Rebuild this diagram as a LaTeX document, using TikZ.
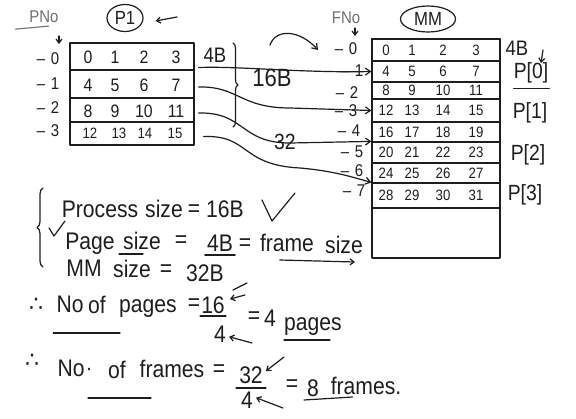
\documentclass[tikz,border=0pt]{standalone}
\usepackage{fontspec}
\setmainfont[FakeStretch=0.88]{Liberation Sans}
\newfontfamily\dejavu{DejaVu Sans}
\usetikzlibrary{arrows.meta,decorations.pathreplacing,calc,shapes.geometric}
\definecolor{inkc}{HTML}{1E1E1E}
\definecolor{grayink}{HTML}{707070}
\begin{document}
\begin{tikzpicture}[x=1pt,y=-1pt]
\tikzset{
  ink/.style={draw=inkc, line width=1.2pt, line cap=round, line join=round},
  tx/.style={inner sep=0pt, text=inkc, font=\fontsize{#1}{#1}\selectfont},
  gtx/.style={inner sep=0pt, text=grayink, font=\fontsize{#1}{#1}\selectfont},
  conn/.style={ink, -{Straight Barb[length=5pt,width=7pt]}},
  small arrow/.style={ink, -{Straight Barb[length=4pt,width=6pt]}},
  p1row/.style={ink, minimum width=124pt, inner sep=0pt},
  mmrow/.style={ink, minimum width=128pt, inner sep=0pt},
  circ/.style={ink, ellipse, inner sep=0pt},
  wb/.style={tx=24, anchor=base},
}
\useasboundingbox (0,0) rectangle (576,418);
\fill[white] (0,0) rectangle (576,418);

% ---------- P1 side ----------
\node[gtx=17] (pno) at (44,17) {PNo};
\draw[draw=grayink, line width=1.1pt, line cap=round] ($(pno.south west)+(-14,6)$) -- ($(pno.south east)+(-10,3)$);
\coordinate (pnoa) at (59,36);
\coordinate (pnob) at (59,44);
\draw[small arrow] (pnoa) -- (pnob);

\node[circ, minimum width=36pt, minimum height=27pt] (P1) at (125,18) {};
\node[tx=19] (P1t) at (P1) {P1};
\coordinate (P1arr) at (177,17);
\draw[small arrow] (P1arr) -- ($(P1.east)+(12,3)$);

\node[p1row, minimum height=27pt] (p0) at (132,56.5) {};
\node[p1row, minimum height=28pt] (p1) at (132,84) {};
\node[p1row, minimum height=24pt] (p2) at (132,110) {};
\node[p1row, minimum height=23pt] (p3) at (132,133.5) {};

\foreach \r/\a/\b/\c/\d in {0/0/1/2/3, 1/4/5/6/7, 2/8/9/10/11} {
  \node[tx=18] (pa\r) at ($(p\r.center)+(-44,1)$) {\a};
  \node[tx=18] (pb\r) at ($(p\r.center)+(-17,1)$) {\b};
  \node[tx=18] (pc\r) at ($(p\r.center)+(12,1)$) {\c};
  \node[tx=18] (pd\r) at ($(p\r.center)+(44,1)$) {\d};
}
\node[tx=15] (pa3) at ($(p3.center)+(-42,0)$) {12};
\node[tx=15] (pb3) at ($(p3.center)+(-13,0)$) {13};
\node[tx=15] (pc3) at ($(p3.center)+(13,0)$) {14};
\node[tx=15] (pd3) at ($(p3.center)+(43,0)$) {15};

\foreach \r/\y in {0/59, 1/84, 2/108, 3/131} {
  \node[tx=17] (pl\r) at (48,\y) {--\,\,\r};
}

\node[tx=21] (fourB) at (215,55) {4B};
\draw[ink, decorate, decoration={brace, amplitude=5pt}] (233,43) -- (233,127);
\node[tx=25] (sixteenB) at (272,78) {16B};
\node[tx=22] (thirtytwo) at (285,142) {32};

\coordinate (ta) at (270,45);
\coordinate (tb) at (318,50);
\draw[conn] (ta) .. controls (276,28) and (300,30) .. (tb);

% ---------- MM side ----------
\node[gtx=17] (fno) at (346,18) {FNo};
\coordinate (fnoa) at (355,28);
\coordinate (fnob) at (355,36);
\draw[small arrow] (fnoa) -- (fnob);
\node[circ, minimum width=55pt, minimum height=26pt] (MM) at (428,19) {};
\node[tx=19] (MMt) at (MM) {MM};

\node[ink, minimum width=128pt, minimum height=219pt, inner sep=0pt] (mmbox) at (436,148.5) {};
\node[mmrow, minimum height=22pt] (f0) at (436,50) {};
\node[mmrow, minimum height=21pt] (f1) at (436,71.5) {};
\node[mmrow, minimum height=17pt] (f2) at (436,90.5) {};
\node[mmrow, minimum height=23pt] (f3) at (436,110.5) {};
\node[mmrow, minimum height=20pt] (f4) at (436,132) {};
\node[mmrow, minimum height=21pt] (f5) at (436,152.5) {};
\node[mmrow, minimum height=20pt] (f6) at (436,173) {};
\node[mmrow, minimum height=25pt] (f7) at (436,195.5) {};

\foreach \r/\a/\b/\c/\d in {0/0/1/2/3, 1/4/5/6/7, 2/8/9/10/11, 3/12/13/14/15, 4/16/17/18/19, 5/20/21/22/23, 6/24/25/26/27, 7/28/29/30/31} {
  \node[tx=15] (ma\r) at ($(f\r.center)+(-50,0)$) {\a};
  \node[tx=15] (mb\r) at ($(f\r.center)+(-24,0)$) {\b};
  \node[tx=15] (mc\r) at ($(f\r.center)+(7,0)$) {\c};
  \node[tx=15] (md\r) at ($(f\r.center)+(40,0)$) {\d};
}

\foreach \r/\x/\y in {0/346/49, 1/352/71, 2/347/93, 3/346/111, 4/349/131, 5/352/152, 6/352/171, 7/354/191} {
  \node[tx=17] (fl\r) at (\x,\y) {--\,\,\r};
}

\node[tx=21] (fourBm) at (517,48) {4B};
\coordinate (fba) at (543,50);
\coordinate (fbb) at (541,63);
\draw[small arrow] (fba) -- (fbb);
\node[tx=22] (P0) at (531,73) {P[0]};
\draw[ink] ($(P0.south west)+(0,5)$) -- ($(P0.south east)+(1,5)$);
\node[tx=22] (Pone) at (530,113) {P[1]};
\node[tx=22] (Ptwo) at (528,155) {P[2]};
\node[tx=22] (Pthree) at (525,195) {P[3]};

% ---------- mapping connectors ----------
\draw[conn] ($(p0.east)+(4,11)$) .. controls (240,66) and (300,73) .. (f1.west);
\draw[conn] ($(p1.east)+(4,3)$) .. controls (238,86) and (240,108) .. (290,108) -- (f3.west);
\draw[conn] ($(p2.east)+(4,3)$) .. controls (245,112) and (240,143) .. (290,143) -- (f5.north west);
\draw[conn] ($(p3.east)+(9,3)$) .. controls (250,135) and (240,165) .. (300,168) .. controls (335,171) and (355,178) .. (f7.north west);

% ---------- notes ----------
\draw[ink, decorate, decoration={brace, amplitude=6pt}] (43,267) -- (43,188);

\node[wb] (wproc) at (100,217) {Process};
\node[wb] (wpsize) at (164,217) {size};
\node[wb] (wpeq) at (194,216) {=};
\node[wb] (wp16) at (225,217) {16B};
\draw[ink] (262,200) -- (272,221) -- (295,193);

\draw[ink] (49,228) -- (54,236) -- (65,221);
\node[wb] (wpage) at (90,249) {Page};
\node[wb] (wgsize) at (142,249) {size};
\node[wb] (wgeq) at (181,247) {=};
\node[wb] (wg4b) at (220,251) {4B};
\node[wb] (wgeq2) at (245,250) {=};
\node[wb] (wframe) at (287,251) {frame};
\node[wb] (wfsize) at (344,253) {size};
\draw[ink] ($(wgsize.base west)+(-4,5)$) -- ($(wgsize.base east)+(-18,5)$);
\draw[ink] ($(wg4b.base west)+(-2,4)$) -- ($(wg4b.base east)+(2,4)$);
\draw[small arrow] ($(wframe.base west)+(20,9)$) -- ($(wfsize.base east)+(-8,9)$);

\node[wb] (wmm) at (84,276) {MM};
\node[wb] (wmsize) at (132,277) {size};
\node[wb] (wmeq) at (166,276) {=};
\node[wb] (wm32) at (205,281) {32B};

% pages line
\node[tx=22, anchor=base] (therefore1) at (36,311) {\dejavu ∴};
\node[wb] (wno1) at (70,312) {No};
\node[wb] (wof1) at (97,313) {of};
\node[wb] (wpages) at (148,312) {pages};
\node[wb] (weq1) at (194,310) {=};
\node[wb] (w16) at (213,313) {16};
\draw[ink] ($(w16.base west)+(-1,3)$) -- ($(w16.base east)+(1,3)$);
\node[wb] (w4a) at (220,342) {4};
\draw[small arrow] (245,295) -- ($(w16.north east)+(5,3)$);
\draw[ink] (233,290) -- (247,283);
\draw[small arrow] (252,343) -- ($(w4a.east)+(3,3)$);
\node[wb] (weq2) at (254,323) {=};
\node[wb] (w4b) at (270,326) {4};
\node[wb] (wpages2) at (313,330) {pages};
\draw[ink] ($(wno1.base west)+(-3,21)$) -- ($(wof1.base east)+(14,20)$);
\draw[ink] ($(wpages2.base west)+(0,10)$) -- ($(wpages2.base east)+(-12,10)$);

% frames line
\node[tx=22, anchor=base] (therefore2) at (32,367) {\dejavu ∴};
\node[wb] (wno2) at (71,376) {No};
\node[tx=22, anchor=base] (wdot) at (89,375) {·};
\node[wb] (wof2) at (117,378) {of};
\node[wb] (wframes) at (172,377) {frames};
\node[wb] (weq3) at (219,376) {=};
\node[wb] (w32) at (251,383) {32};
\draw[ink] ($(w32.base west)+(-3,5)$) -- ($(w32.base east)+(3,5)$);
\node[wb] (w4c) at (247,408) {4};
\draw[small arrow] (284,357) -- ($(w32.north east)+(3,5)$);
\draw[small arrow] (283,408) -- ($(w4c.east)+(3,-2)$);
\node[wb] (weq4) at (292,391) {=};
\node[wb] (w8) at (313,396) {8};
\node[wb] (wframes2) at (366,394) {frames.};
\draw[ink] ($(wof2.base west)+(-20,20)$) -- ($(wof2.base east)+(25,20)$);
\draw[ink] ($(w8.base west)+(-3,4)$) -- ($(wframes2.base west)+(22,3)$);
\end{tikzpicture}
\end{document}
